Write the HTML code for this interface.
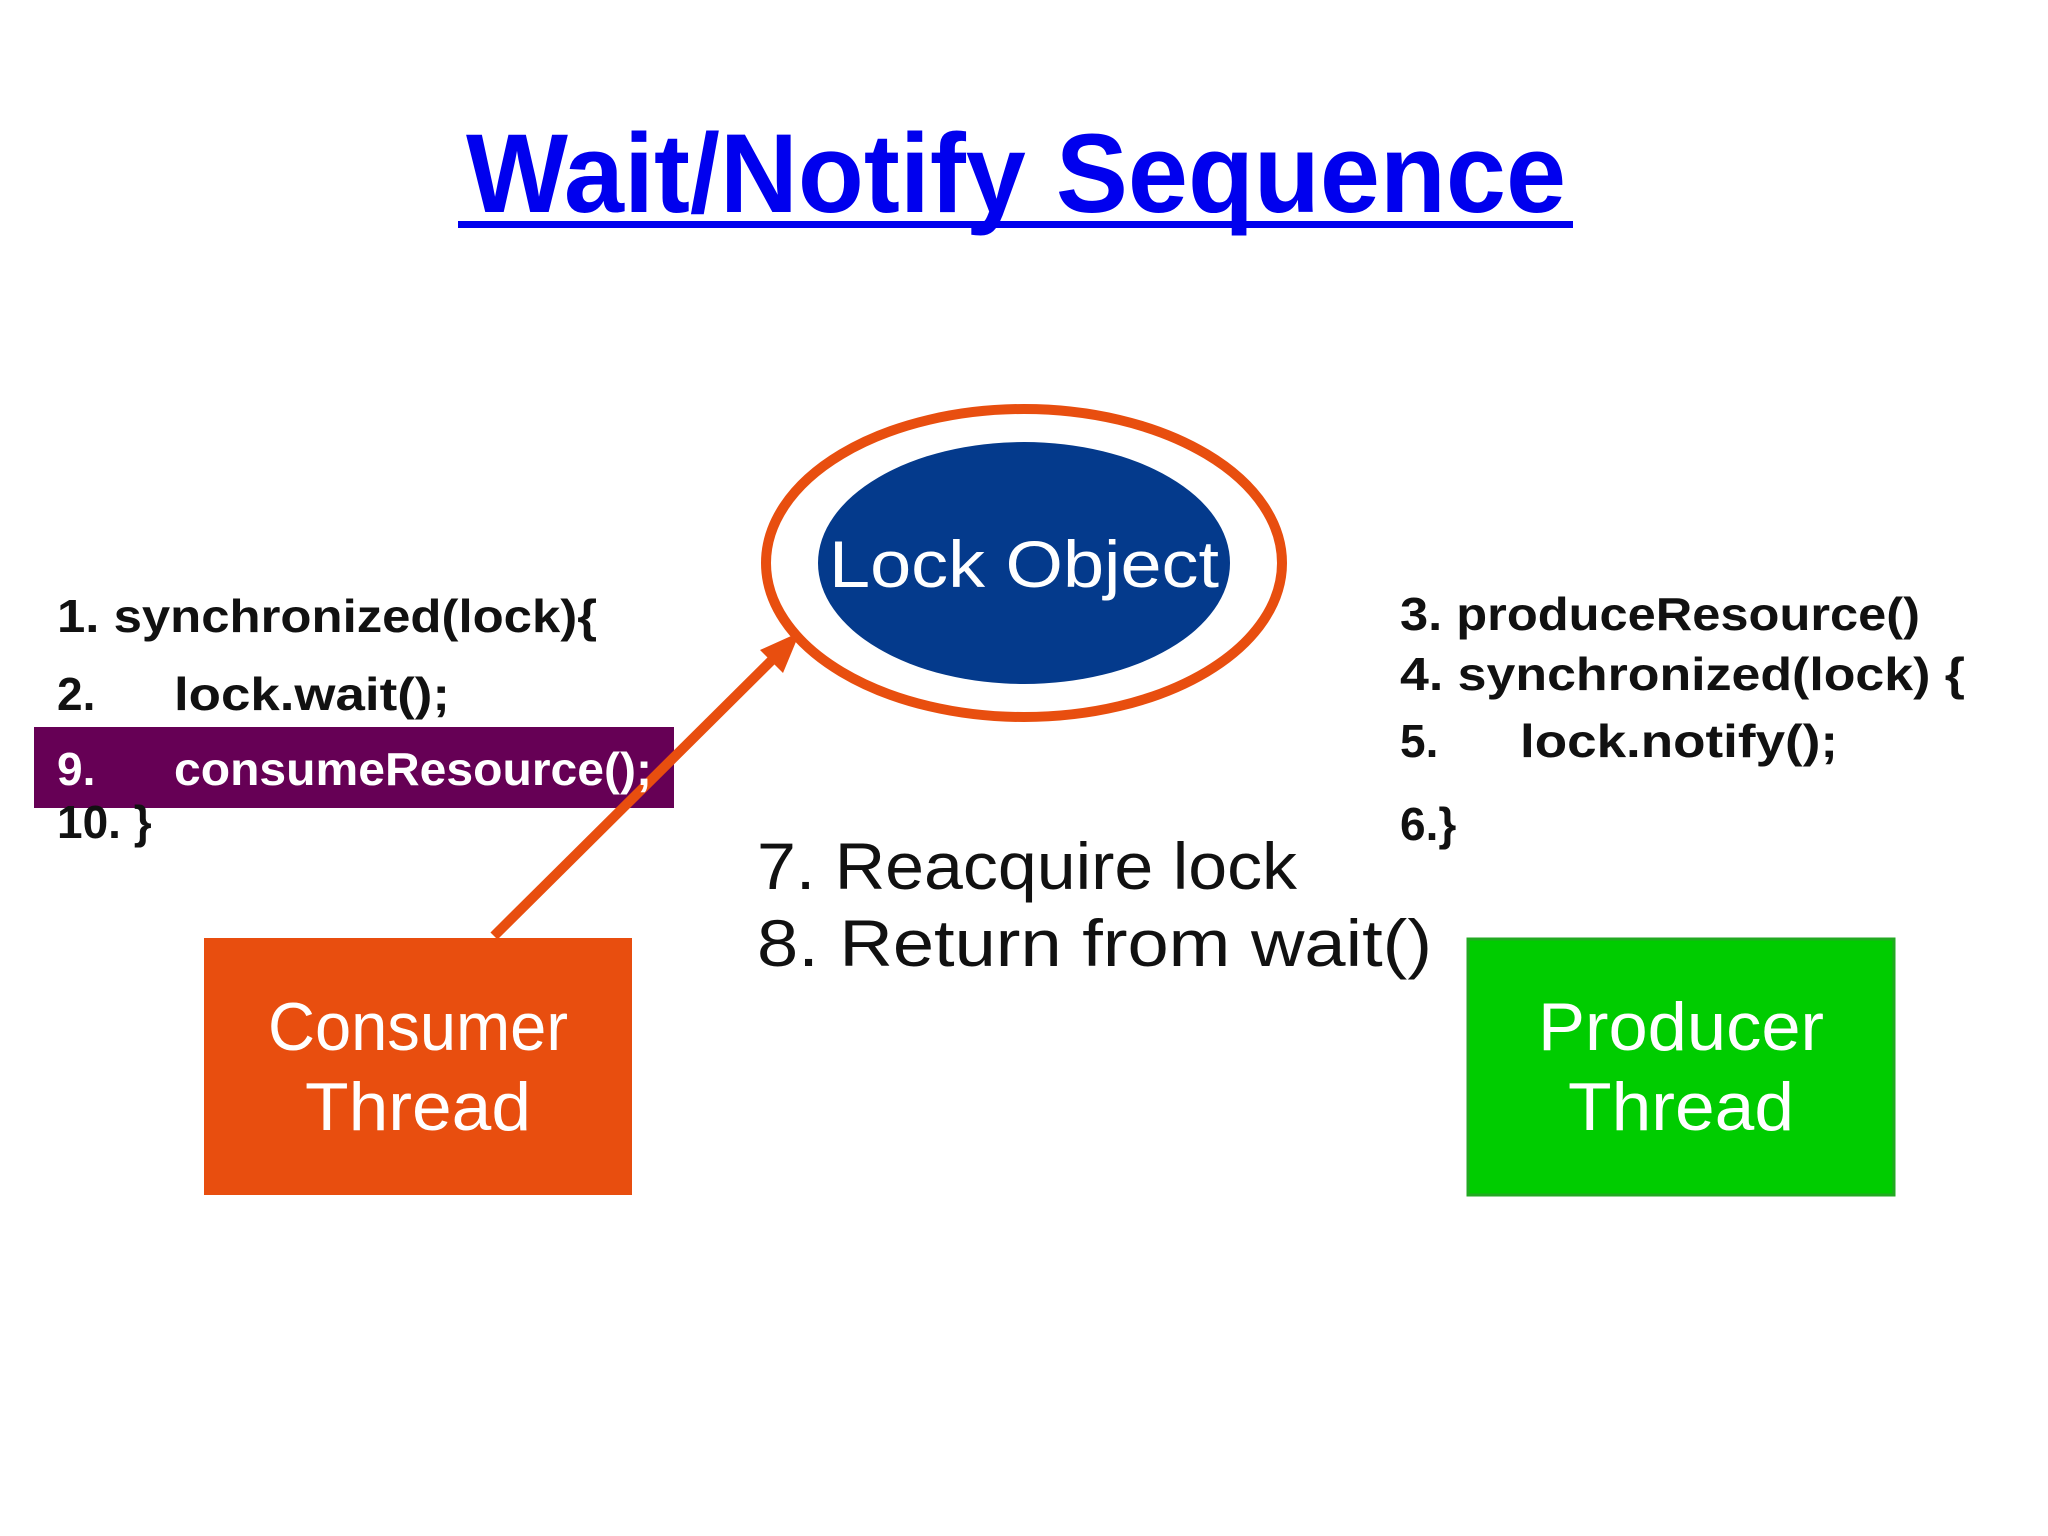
<!DOCTYPE html>
<html><head><meta charset="utf-8"><style>
html,body{margin:0;padding:0;background:#fff;}
svg{display:block;}
text{font-family:"Liberation Sans",sans-serif;}
</style></head><body>
<svg width="2048" height="1536" viewBox="0 0 2048 1536" xmlns="http://www.w3.org/2000/svg">
<rect width="2048" height="1536" fill="#fff"/>
<text x="1016" y="212" text-anchor="middle" font-size="112" font-weight="bold" fill="#0000ee" textLength="1100" lengthAdjust="spacingAndGlyphs">Wait/Notify Sequence</text>
<rect x="458" y="221" width="1115" height="7" fill="#0000ee"/>

<ellipse cx="1024" cy="563" rx="258" ry="154" fill="none" stroke="#e84e0f" stroke-width="10"/>
<ellipse cx="1024" cy="563" rx="206" ry="121" fill="#043a8c"/>
<text x="1024" y="587" text-anchor="middle" font-size="66" fill="#fff" textLength="390" lengthAdjust="spacingAndGlyphs">Lock Object</text>

<rect x="34" y="727" width="640" height="81" fill="#660055"/>
<line x1="494" y1="936" x2="780" y2="652" stroke="#e84e0f" stroke-width="10"/>
<polygon points="800,632 760,650 783,673" fill="#e84e0f"/>

<g font-size="46" font-weight="bold" fill="#111">
<text x="57" y="632" textLength="540" lengthAdjust="spacingAndGlyphs">1. synchronized(lock){</text>
<text x="57" y="710">2.</text>
<text x="174" y="710" textLength="276" lengthAdjust="spacingAndGlyphs">lock.wait();</text>
<text x="57" y="785" fill="#fff">9.</text>
<text x="174" y="785" fill="#fff" textLength="478" lengthAdjust="spacingAndGlyphs">consumeResource();</text>
<text x="57" y="838">10. }</text>
<text x="1400" y="630" textLength="520" lengthAdjust="spacingAndGlyphs">3. produceResource()</text>
<text x="1400" y="690" textLength="565" lengthAdjust="spacingAndGlyphs">4. synchronized(lock) {</text>
<text x="1400" y="757">5.</text>
<text x="1520" y="757" textLength="318" lengthAdjust="spacingAndGlyphs">lock.notify();</text>
<text x="1400" y="840">6.}</text>
</g>

<g font-size="66" fill="#111">
<text x="757" y="889" textLength="540" lengthAdjust="spacingAndGlyphs">7. Reacquire lock</text>
<text x="757" y="966" textLength="675" lengthAdjust="spacingAndGlyphs">8. Return from wait()</text>
</g>

<rect x="204" y="938" width="428" height="257" fill="#e84e0f"/>
<text x="418" y="1050" text-anchor="middle" font-size="68" fill="#fff" textLength="300" lengthAdjust="spacingAndGlyphs">Consumer</text>
<text x="418" y="1130" text-anchor="middle" font-size="68" fill="#fff" textLength="226" lengthAdjust="spacingAndGlyphs">Thread</text>

<rect x="1468" y="939" width="426" height="256" fill="#00cc00" stroke="#22aa22" stroke-width="3"/>
<text x="1681" y="1050" text-anchor="middle" font-size="68" fill="#fff" textLength="286" lengthAdjust="spacingAndGlyphs">Producer</text>
<text x="1681" y="1130" text-anchor="middle" font-size="68" fill="#fff" textLength="226" lengthAdjust="spacingAndGlyphs">Thread</text>
</svg>
</body></html>
